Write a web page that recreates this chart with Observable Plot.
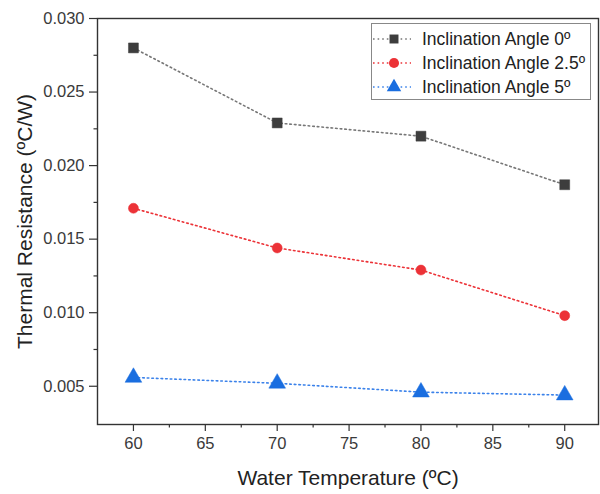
<!DOCTYPE html>
<html>
<head>
<meta charset="utf-8">
<script src="https://cdn.jsdelivr.net/npm/d3@7"></script>
<script src="https://cdn.jsdelivr.net/npm/@observablehq/plot@0.6"></script>
<style>
  body { margin: 0; background: #fff; }
  #wrap { position: relative; width: 600px; height: 494px; font-family: "Liberation Sans", Arial, sans-serif; }
  #legend { position: absolute; left: 371px; top: 23px; width: 220px; height: 77px; border: 1px solid #888; background: #fff; box-sizing: border-box; }
  .row { position: absolute; left: 0; height: 24px; display: flex; align-items: center; font-size: 17.5px; color: #222; white-space: nowrap; }
  .row svg { margin-right: 9px; margin-left: 1px; }
</style>
</head>
<body>
<div id="wrap">
  <div id="chart"></div>
  <div id="legend"></div>
</div>
<script>
const temperatures = [60, 70, 80, 90];
const angle0 = [0.0280, 0.0229, 0.0220, 0.0187];
const angle25 = [0.0171, 0.0144, 0.0129, 0.0098];
const angle5 = [0.0056, 0.0052, 0.0046, 0.0044];
const seriesNames = ["Inclination Angle 0º", "Inclination Angle 2.5º", "Inclination Angle 5º"];
const seriesColors = ["#3d3d3d", "#ec3237", "#1a6ee0"];
const lineColors = ["#777777", "#ec3237", "#3b82ea"];
const seriesSymbols = ["square", "circle", "triangle"];
const xTicks = [60, 65, 70, 75, 80, 85, 90];
const xMinorTicks = [62.5, 67.5, 72.5, 77.5, 82.5, 87.5];
const yTicks = [0.005, 0.010, 0.015, 0.020, 0.025, 0.030];
const yMinorTicks = [0.0075, 0.0125, 0.0175, 0.0225, 0.0275];

const seriesValues = [angle0, angle25, angle5];
const data = [];
seriesValues.forEach((vals, i) => {
  vals.forEach((v, j) => data.push({series: seriesNames[i], idx: i, t: temperatures[j], r: v}));
});

const marks = [];
seriesNames.forEach((name, i) => {
  const d = data.filter(e => e.idx === i);
  marks.push(Plot.line(d, {x: "t", y: "r", stroke: lineColors[i], strokeWidth: 1.6, strokeDasharray: "1.6,3"}));
});
seriesNames.forEach((name, i) => {
  const d = data.filter(e => e.idx === i);
  marks.push(Plot.dot(d, {x: "t", y: "r", symbol: () => seriesSymbols[i], fill: seriesColors[i], stroke: seriesColors[i], strokeOpacity: 0.5, strokeWidth: 1, r: i === 2 ? 6.2 : (i === 0 ? 5.6 : 5)}));
});

const chart = Plot.plot({
  width: 600,
  height: 494,
  marginLeft: 97,
  marginTop: 18,
  marginRight: 2,
  marginBottom: 70,
  style: {fontFamily: '"Liberation Sans", Arial, sans-serif', fontSize: "16.5px", color: "#3a3a3a", background: "#fff"},
  x: {domain: [57.5, 92.35]},
  y: {domain: [0.0024, 0.030]},
  marks: [
    Plot.frame({stroke: "#333", strokeWidth: 1.4}),
    Plot.axisX({ticks: xTicks, tickSize: 7, tickPadding: 6, tickFormat: d => d, stroke: "#333", strokeWidth: 1.2,
      label: "Water Temperature (ºC)", labelAnchor: "center", labelArrow: "none", labelOffset: 60, fontSize: 16.5}),
    Plot.axisX({ticks: xMinorTicks, tickSize: 3.5, tickFormat: null, text: null, label: null, stroke: "#333", strokeWidth: 1.2}),
    Plot.axisY({ticks: yTicks, tickSize: 8, tickPadding: 5, tickFormat: d3.format(".3f"), stroke: "#333", strokeWidth: 1.2,
      label: "Thermal Resistance (ºC/W)", labelAnchor: "center", labelArrow: "none", labelOffset: 80, fontSize: 16.5}),
    Plot.axisY({ticks: yMinorTicks, tickSize: 3.5, text: null, label: null, stroke: "#333", strokeWidth: 1.2}),
    ...marks
  ]
});
document.getElementById("chart").appendChild(chart);

// enlarge axis label fonts
chart.querySelectorAll("[aria-label='x-axis label'] text, [aria-label='y-axis label'] text").forEach(t => {
  t.setAttribute("font-size", "21");
  t.style.fontSize = "21px";
  t.setAttribute("fill", "#222");
});

// legend
const legend = document.getElementById("legend");
const rowTops = [3, 27, 51];
seriesNames.forEach((name, i) => {
  const row = document.createElement("div");
  row.className = "row";
  row.style.top = rowTops[i] + "px";
  const s = d3.create("svg").attr("width", 40).attr("height", 20);
  s.append("line").attr("x1", 0).attr("x2", 38).attr("y1", 10).attr("y2", 10)
    .attr("stroke", lineColors[i]).attr("stroke-width", 1.6).attr("stroke-dasharray", "1.6,3");
  const sym = d3.symbol().type(seriesSymbols[i] === "square" ? d3.symbolSquare : seriesSymbols[i] === "circle" ? d3.symbolCircle : d3.symbolTriangle)
    .size(i === 2 ? 90 : 80);
  s.append("path").attr("d", sym()).attr("transform", "translate(21,10)").attr("fill", seriesColors[i]);
  row.appendChild(s.node());
  const span = document.createElement("span");
  span.textContent = name;
  row.appendChild(span);
  legend.appendChild(row);
});
</script>
</body>
</html>
